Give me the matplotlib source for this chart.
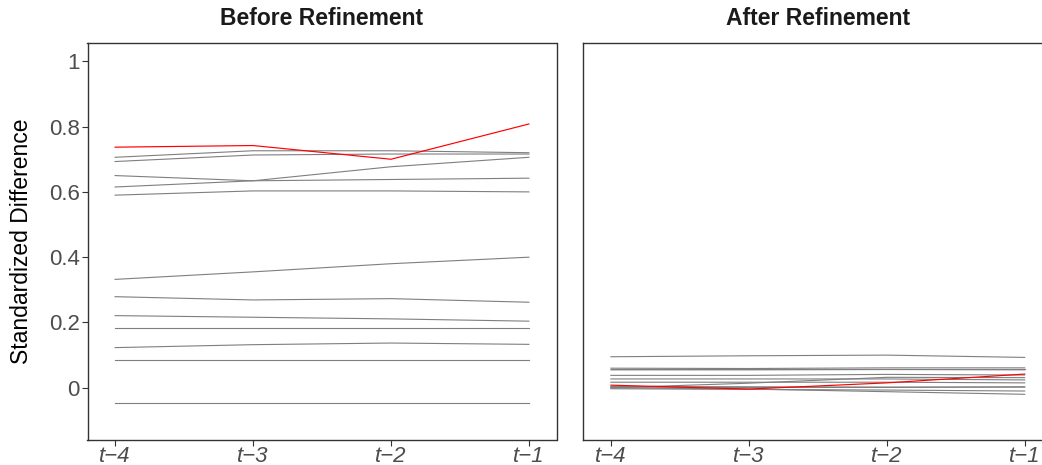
import matplotlib
matplotlib.use('Agg')
import matplotlib.pyplot as plt

plt.rcParams['font.family'] = ['Liberation Sans', 'DejaVu Sans']

# периоды до события
periods = [1, 2, 3, 4]
period_labels = ['t\u22124', 't\u22123', 't\u22122', 't\u22121']

# стандартизированные разности до уточнения (серые линии)
before_gray = [
    [0.706, 0.726, 0.726, 0.720],
    [0.693, 0.713, 0.716, 0.716],
    [0.650, 0.634, 0.638, 0.642],
    [0.615, 0.634, 0.677, 0.706],
    [0.590, 0.603, 0.603, 0.600],
    [0.332, 0.355, 0.380, 0.400],
    [0.279, 0.269, 0.273, 0.262],
    [0.221, 0.216, 0.211, 0.204],
    [0.182, 0.182, 0.182, 0.182],
    [0.123, 0.132, 0.137, 0.133],
    [0.084, 0.084, 0.084, 0.084],
    [-0.046, -0.046, -0.046, -0.046],
]
# выделенная переменная (красная)
before_red = [0.737, 0.742, 0.700, 0.808]

# после уточнения
after_gray = [
    [0.095, 0.098, 0.100, 0.093],
    [0.060, 0.059, 0.061, 0.061],
    [0.057, 0.057, 0.057, 0.057],
    [0.055, 0.055, 0.056, 0.055],
    [0.038, 0.038, 0.041, 0.039],
    [0.027, 0.027, 0.027, 0.024],
    [0.000, 0.014, 0.032, 0.031],
    [0.017, 0.017, 0.017, 0.015],
    [0.002, 0.001, 0.001, 0.003],
    [-0.003, -0.005, -0.007, -0.010],
    [0.000, -0.004, -0.012, -0.020],
    [0.004, 0.003, 0.002, 0.002],
]
after_red = [0.008, -0.004, 0.015, 0.042]

W, H = 1042, 465
fig = plt.figure(figsize=(W / 100, H / 100), dpi=100)

panel_w = 469 / W
panel_b = 25 / H
panel_h = 397.3 / H
ax1 = fig.add_axes([87.5 / W, panel_b, panel_w, panel_h])
ax2 = fig.add_axes([583.3 / W, panel_b, panel_w, panel_h])

for ax, gray, red, title in [(ax1, before_gray, before_red, 'Before Refinement'),
                             (ax2, after_gray, after_red, 'After Refinement')]:
    for row in gray:
        ax.plot(periods, row, color='#7f7f7f', linewidth=0.8)
    ax.plot(periods, red, color='red', linewidth=0.85)
    ax.set_xlim(0.8, 4.2)
    ax.set_ylim(-0.16, 1.057)
    ax.set_xticks(periods)
    ax.set_xticklabels(period_labels, fontstyle='italic')
    ax.tick_params(axis='x', length=4, width=0.8, color='#333333',
                   labelcolor='#4d4d4d', labelsize=16, pad=0.5)
    for s in ax.spines.values():
        s.set_color('#333333')
        s.set_linewidth(1.0)
    ax.set_title(title, fontsize=16.5, fontweight='bold', color='#1a1a1a', pad=13)

ax1.set_yticks([0, 0.2, 0.4, 0.6, 0.8, 1])
ax1.set_yticklabels(['0', '0.2', '0.4', '0.6', '0.8', '1'])
ax1.tick_params(axis='y', length=4, width=0.8, color='#333333',
                labelcolor='#4d4d4d', labelsize=16, pad=1.5)
ax2.set_yticks([])

fig.text(22 / W, 1 - 241 / H, 'Standardized Difference', rotation=90,
         ha='center', va='center', fontsize=16.5, color='black')

fig.savefig('out.png', dpi=100)
